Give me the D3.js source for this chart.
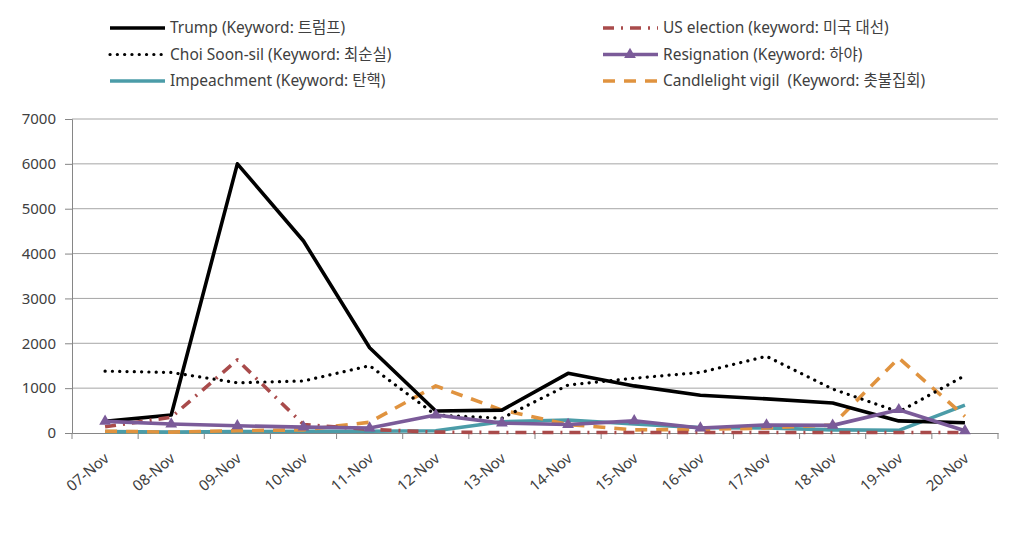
<!DOCTYPE html>
<html><head><meta charset="utf-8">
<script src="https://cdn.jsdelivr.net/npm/d3@7"></script>
<style>body{margin:0;background:#fff;} text{font-family:"Noto Sans","Noto Sans CJK KR",sans-serif;fill:#404040;}</style>
</head><body><svg id="c" width="1024" height="559"></svg>
<script>
const categories = ["07-Nov","08-Nov","09-Nov","10-Nov","11-Nov","12-Nov","13-Nov","14-Nov","15-Nov","16-Nov","17-Nov","18-Nov","19-Nov","20-Nov"];
const yTicks = [0,1000,2000,3000,4000,5000,6000,7000];
const trump       = [260, 400, 6000, 4280, 1900, 490, 510, 1330, 1050, 840, 760, 670, 270, 230];
const choi        = [1380, 1350, 1120, 1160, 1500, 400, 330, 1070, 1220, 1350, 1710, 980, 470, 1280];
const usElection  = [140, 350, 1630, 190, 80, 20, 10, 10, 10, 10, 10, 10, 10, 10];
const resignation = [260, 200, 160, 130, 110, 400, 220, 190, 270, 110, 180, 170, 520, 50];
const impeachment = [30, 20, 30, 40, 40, 50, 250, 290, 200, 120, 110, 70, 60, 620];
const candle      = [40, 20, 50, 70, 240, 1050, 510, 190, 70, 80, 110, 180, 1670, 370];

const series = [
  {name:"Trump (Keyword: 트럼프)", data:trump, color:"#000000", dash:null, cap:"butt", w:3.6, col:0, row:0},
  {name:"US election (keyword: 미국 대선)", data:usElection, color:"#A94B4B", dash:"11 7 2 7", cap:"butt", w:3.6, col:1, row:0},
  {name:"Choi Soon-sil (Keyword: 최순실)", data:choi, color:"#000000", dash:"0.1 7.2", cap:"round", w:3.2, col:0, row:1},
  {name:"Resignation (Keyword: 하야)", data:resignation, color:"#7B5B99", dash:null, cap:"butt", w:3.6, col:1, row:1, marker:true},
  {name:"Impeachment (Keyword: 탄핵)", data:impeachment, color:"#4B9CA8", dash:null, cap:"butt", w:3.6, col:0, row:2},
  {name:"Candlelight vigil  (Keyword: 촛불집회)", data:candle, color:"#E0933F", dash:"12 9", cap:"butt", w:3.6, col:1, row:2}
];
const drawOrder = [4,5,0,2,1,3];

const svg = d3.select("#c");
const L = 72, R = 998, T = 119, B = 433;
const x = d3.scaleBand().domain(categories).range([L, R]);
const y = d3.scaleLinear().domain([0,7000]).range([B, T]);

// gridlines
svg.append("g").selectAll("line").data(yTicks.slice(1)).join("line")
  .attr("x1", L).attr("x2", R).attr("y1", d=>y(d)).attr("y2", d=>y(d))
  .attr("stroke","#A6A6A6").attr("stroke-width",1);

// y axis
const ya = svg.append("g").attr("transform",`translate(${L},0)`)
  .call(d3.axisLeft(y).tickValues(yTicks).tickSize(7).tickPadding(9).tickFormat(d3.format("d")));
ya.select(".domain").attr("stroke","#868686");
ya.selectAll(".tick line").attr("stroke","#868686");
ya.selectAll("text").style("font-size","15px").attr("fill","#404040");

// x axis
const xa = svg.append("g").attr("transform",`translate(0,${B})`)
  .call(d3.axisBottom(x).tickSize(0).tickFormat(""));
xa.select(".domain").attr("stroke","#868686");
svg.append("g").selectAll("line").data(categories.map((c,i)=>x(c)).concat([R])).join("line")
  .attr("x1",d=>d).attr("x2",d=>d).attr("y1",B).attr("y2",B+6).attr("stroke","#868686");
svg.append("g").selectAll("text").data(categories).join("text")
  .attr("transform", d=>`translate(${x(d)+x.bandwidth()/2+5},${B+27}) rotate(-40)`)
  .attr("text-anchor","end")
  .style("font-size","15px").text(d=>d);

// lines
const line = d3.line().x((d,i)=>x(categories[i])+x.bandwidth()/2).y(d=>y(d));
const tri = d3.symbol().type(d3.symbolTriangle).size(60);
drawOrder.forEach(k=>{
  const s = series[k];
  svg.append("path").datum(s.data).attr("d", line)
    .attr("fill","none").attr("stroke", s.color).attr("stroke-width", s.w)
    .attr("stroke-linecap", s.cap).attr("stroke-linejoin","round")
    .attr("stroke-dasharray", s.dash);
  if (s.marker) {
    svg.append("g").selectAll("path").data(s.data).join("path")
      .attr("d", tri)
      .attr("transform",(d,i)=>`translate(${x(categories[i])+x.bandwidth()/2},${y(d)})`)
      .attr("fill", s.color);
  }
});

// legend
const lg = svg.append("g");
series.forEach(s=>{
  const lx = s.col===0 ? 110 : 603;
  const ly = 28 + s.row*26.5;
  lg.append("line").attr("x1",lx).attr("x2",lx+55).attr("y1",ly).attr("y2",ly)
    .attr("stroke",s.color).attr("stroke-width",s.w)
    .attr("stroke-linecap",s.cap).attr("stroke-dasharray",s.dash);
  if (s.marker) lg.append("path").attr("d",tri).attr("transform",`translate(${lx+27},${ly})`).attr("fill",s.color);
  lg.append("text").attr("x", lx+60).attr("y", ly).attr("dy","0.35em")
    .attr("xml:space","preserve").style("white-space","pre")
    .style("font-size","15.5px").text(s.name);
});
</script></body></html>
